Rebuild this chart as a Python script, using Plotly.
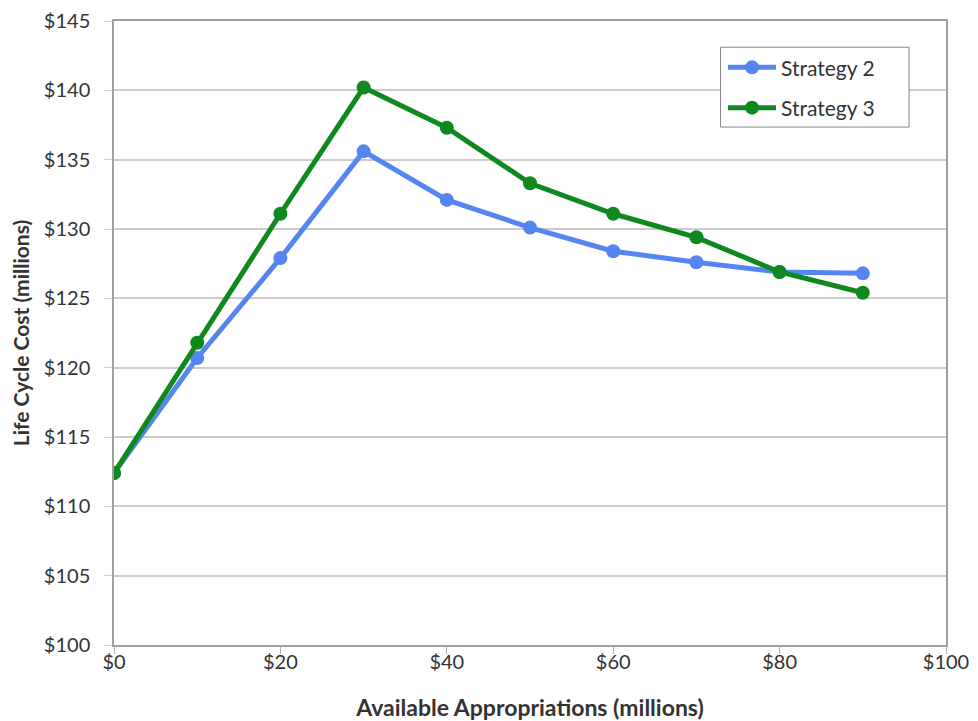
import plotly.graph_objects as go

appropriations = [0, 10, 20, 30, 40, 50, 60, 70, 80, 90]
strategy2 = [112.4, 120.7, 127.9, 135.6, 132.1, 130.1, 128.4, 127.6, 126.9, 126.8]
strategy3 = [112.4, 121.8, 131.1, 140.2, 137.3, 133.3, 131.1, 129.4, 126.9, 125.4]

FONT = "Lato, 'Open Sans', sans-serif"
TXT = "#333333"

fig = go.Figure()
fig.add_trace(go.Scatter(x=appropriations, y=strategy2, name="Strategy 2", mode="lines+markers",
                         legendgroup="s2",
                         line=dict(color="#5585f2", width=5), marker=dict(size=14, color="#5585f2")))
fig.add_trace(go.Scatter(x=appropriations, y=strategy3, name="Strategy 3", mode="lines+markers",
                         legendgroup="s3",
                         line=dict(color="#0f891e", width=5), marker=dict(size=14, color="#0f891e")))

# legend frame (wider than plotly's own legend box, as in the reference)
fig.add_shape(type="rect", xref="paper", yref="paper",
              x0=0.729, x1=0.9556, y0=0.830, y1=0.958,
              line=dict(color="#888888", width=1), fillcolor="white", layer="above")

fig.update_layout(
    width=970, height=713,
    margin=dict(l=106, r=32, t=13, b=76),
    paper_bgcolor="white", plot_bgcolor="white",
    font=dict(family=FONT, size=20, color=TXT),
    showlegend=True,
    legend=dict(x=0.732, y=0.958, xanchor="left", yanchor="top",
                borderwidth=0, bgcolor="rgba(0,0,0,0)",
                font=dict(size=21, color=TXT), itemwidth=48, tracegroupgap=10),
)
fig.update_xaxes(range=[0, 100], dtick=20, tickprefix="$", automargin=False,
                 showgrid=False, showline=True, linecolor="#a0a0a0", linewidth=1.5, mirror=True,
                 ticks="outside", ticklen=7, tickcolor="#b0b0b0",
                 tickfont=dict(size=20),
                 ticklabelstandoff=-9, ticklabeloverflow="allow",
                 title=dict(text="<b>Available Appropriations (millions)</b>", font=dict(size=23, color=TXT), standoff=53),
                 zeroline=False)
fig.update_yaxes(range=[100, 145], dtick=5, tickprefix="$", automargin=False,
                 showgrid=True, gridcolor="#cccccc", gridwidth=2,
                 showline=True, linecolor="#a0a0a0", linewidth=1.5, mirror=True,
                 ticks="outside", ticklen=8, tickcolor="#cccccc",
                 tickfont=dict(size=20),
                 ticklabelstandoff=10, ticklabeloverflow="allow",
                 title=dict(text="<b>Life Cycle Cost (millions)</b>", font=dict(size=21, color=TXT), standoff=8),
                 zeroline=False)

fig.write_html("out.html")
